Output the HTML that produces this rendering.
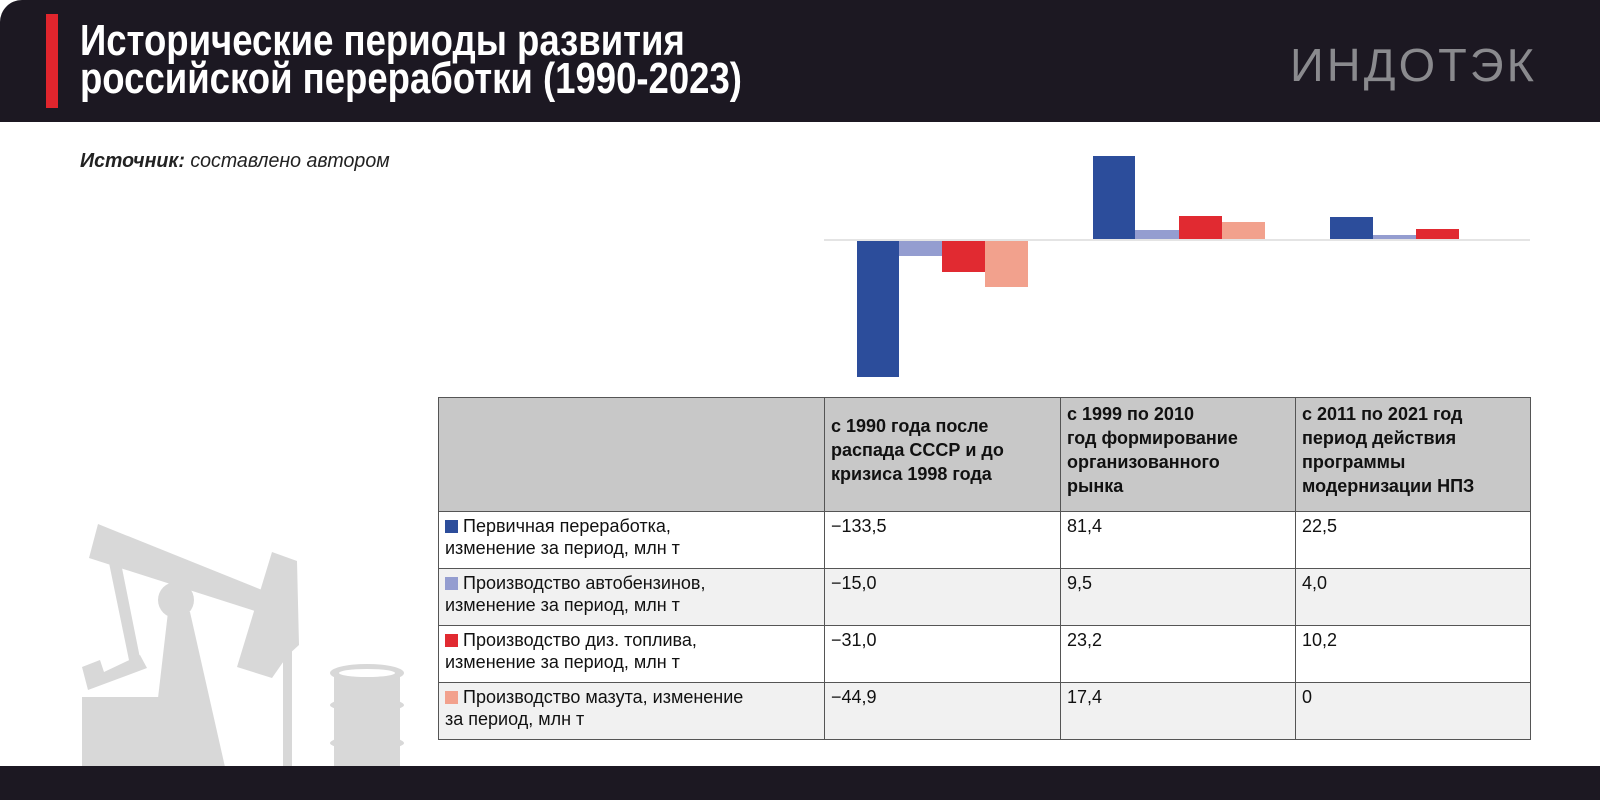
<!DOCTYPE html>
<html><head><meta charset="utf-8"><style>
*{margin:0;padding:0;box-sizing:border-box}
body{width:1600px;height:800px;background:#fff;position:relative;overflow:hidden;font-family:"Liberation Sans","DejaVu Sans",sans-serif}
.hdr{position:absolute;left:0;top:0;width:1600px;height:122px;background:#1c1822;border-top-left-radius:22px}
.redbar{position:absolute;left:46px;top:14px;width:12px;height:94px;background:#e0252d}
.title{position:absolute;left:80px;top:22px;color:#fff;font-weight:bold;font-size:44px;line-height:38px;transform:scaleX(0.83);transform-origin:left top;white-space:nowrap}
.logo{position:absolute;left:1290px;top:38px;color:#8a8a8e;font-size:46px;letter-spacing:3px;font-weight:normal;transform:scaleX(1.02);transform-origin:left top}
.src{position:absolute;left:80px;top:150px;font-size:20px;font-style:italic;color:#222;transform:scaleX(0.98);transform-origin:left top;white-space:nowrap}
.foot{position:absolute;left:0;top:766px;width:1600px;height:34px;background:#1c1822}
table{position:absolute;left:438px;top:397px;border-collapse:collapse;font-size:18px;color:#111}
td{border:1px solid #555;vertical-align:top;padding:3px 6px;line-height:22px}
tr.h td{background:#c8c8c8;font-weight:bold;height:114px;padding-top:4px;line-height:24px}
tr.h td.b{padding-top:16px}
tr.w td{background:#fff;height:57px}
tr.g td{background:#f1f1f1;height:57px}
.sq{display:inline-block;width:13px;height:13px;margin-right:5px;vertical-align:-1px}
</style></head><body>
<div class="hdr"></div>
<div class="redbar"></div>
<div class="title">Исторические периоды развития<br>российской переработки (1990-2023)</div>
<div class="logo">ИНДОТЭК</div>
<div class="src"><b>Источник:</b> составлено автором</div>

<svg style="position:absolute;left:0;top:0" width="1600" height="800">
<line x1="824" y1="240" x2="1530" y2="240" stroke="#e4e4e4" stroke-width="2"/>
<rect x="857" y="241" width="42" height="136" fill="#2c4d9b"/>
<rect x="899" y="241" width="43" height="15" fill="#949dd0"/>
<rect x="942" y="241" width="43" height="31" fill="#e12a31"/>
<rect x="985" y="241" width="43" height="46" fill="#f2a18d"/>
<rect x="1093" y="156" width="42" height="83" fill="#2c4d9b"/>
<rect x="1135" y="230" width="44" height="9" fill="#949dd0"/>
<rect x="1179" y="216" width="43" height="23" fill="#e12a31"/>
<rect x="1222" y="222" width="43" height="17" fill="#f2a18d"/>
<rect x="1330" y="217" width="43" height="22" fill="#2c4d9b"/>
<rect x="1373" y="235" width="43" height="4" fill="#949dd0"/>
<rect x="1416" y="229" width="43" height="10" fill="#e12a31"/>
<g fill="#d8d8d8">
<polygon points="98,524 262,590 258,612 89,558"/>
<polygon points="108,558 120,558 142,668 131,670"/>
<polygon points="82,667 100,660 104,672 140,655 147,668 88,690"/>
<rect x="82" y="697" width="95" height="70"/>
<circle cx="176" cy="600" r="18"/>
<polygon points="168,612 190,612 225,767 150,767"/>
<polygon points="272,552 297,561 299,645 288,655 272,678 237,667"/>
<rect x="283" y="650" width="9" height="117"/>
<ellipse cx="367" cy="673" rx="37" ry="9"/>
<rect x="334" y="673" width="66" height="94"/>
<ellipse cx="367" cy="705" rx="37" ry="7"/>
<ellipse cx="367" cy="743" rx="37" ry="7"/>
</g>
<ellipse cx="367" cy="673" rx="28" ry="4" fill="#fff"/>
</svg>

<table>
<tr class="h"><td style="width:386px"></td><td class="b" style="width:236px">с 1990 года после<br>распада СССР и до<br>кризиса 1998 года</td><td style="width:235px">с 1999 по 2010<br>год формирование<br>организованного<br>рынка</td><td style="width:235px">с 2011 по 2021 год<br>период действия<br>программы<br>модернизации НПЗ</td></tr>
<tr class="w"><td><span class="sq" style="background:#2c4d9b"></span>Первичная переработка,<br>изменение за период, млн т</td><td>−133,5</td><td>81,4</td><td>22,5</td></tr>
<tr class="g"><td><span class="sq" style="background:#949dd0"></span>Производство автобензинов,<br>изменение за период, млн т</td><td>−15,0</td><td>9,5</td><td>4,0</td></tr>
<tr class="w"><td><span class="sq" style="background:#e12a31"></span>Производство диз. топлива,<br>изменение за период, млн т</td><td>−31,0</td><td>23,2</td><td>10,2</td></tr>
<tr class="g"><td><span class="sq" style="background:#f2a18d"></span>Производство мазута, изменение<br>за период, млн т</td><td>−44,9</td><td>17,4</td><td>0</td></tr>
</table>
<div class="foot"></div>
</body></html>
